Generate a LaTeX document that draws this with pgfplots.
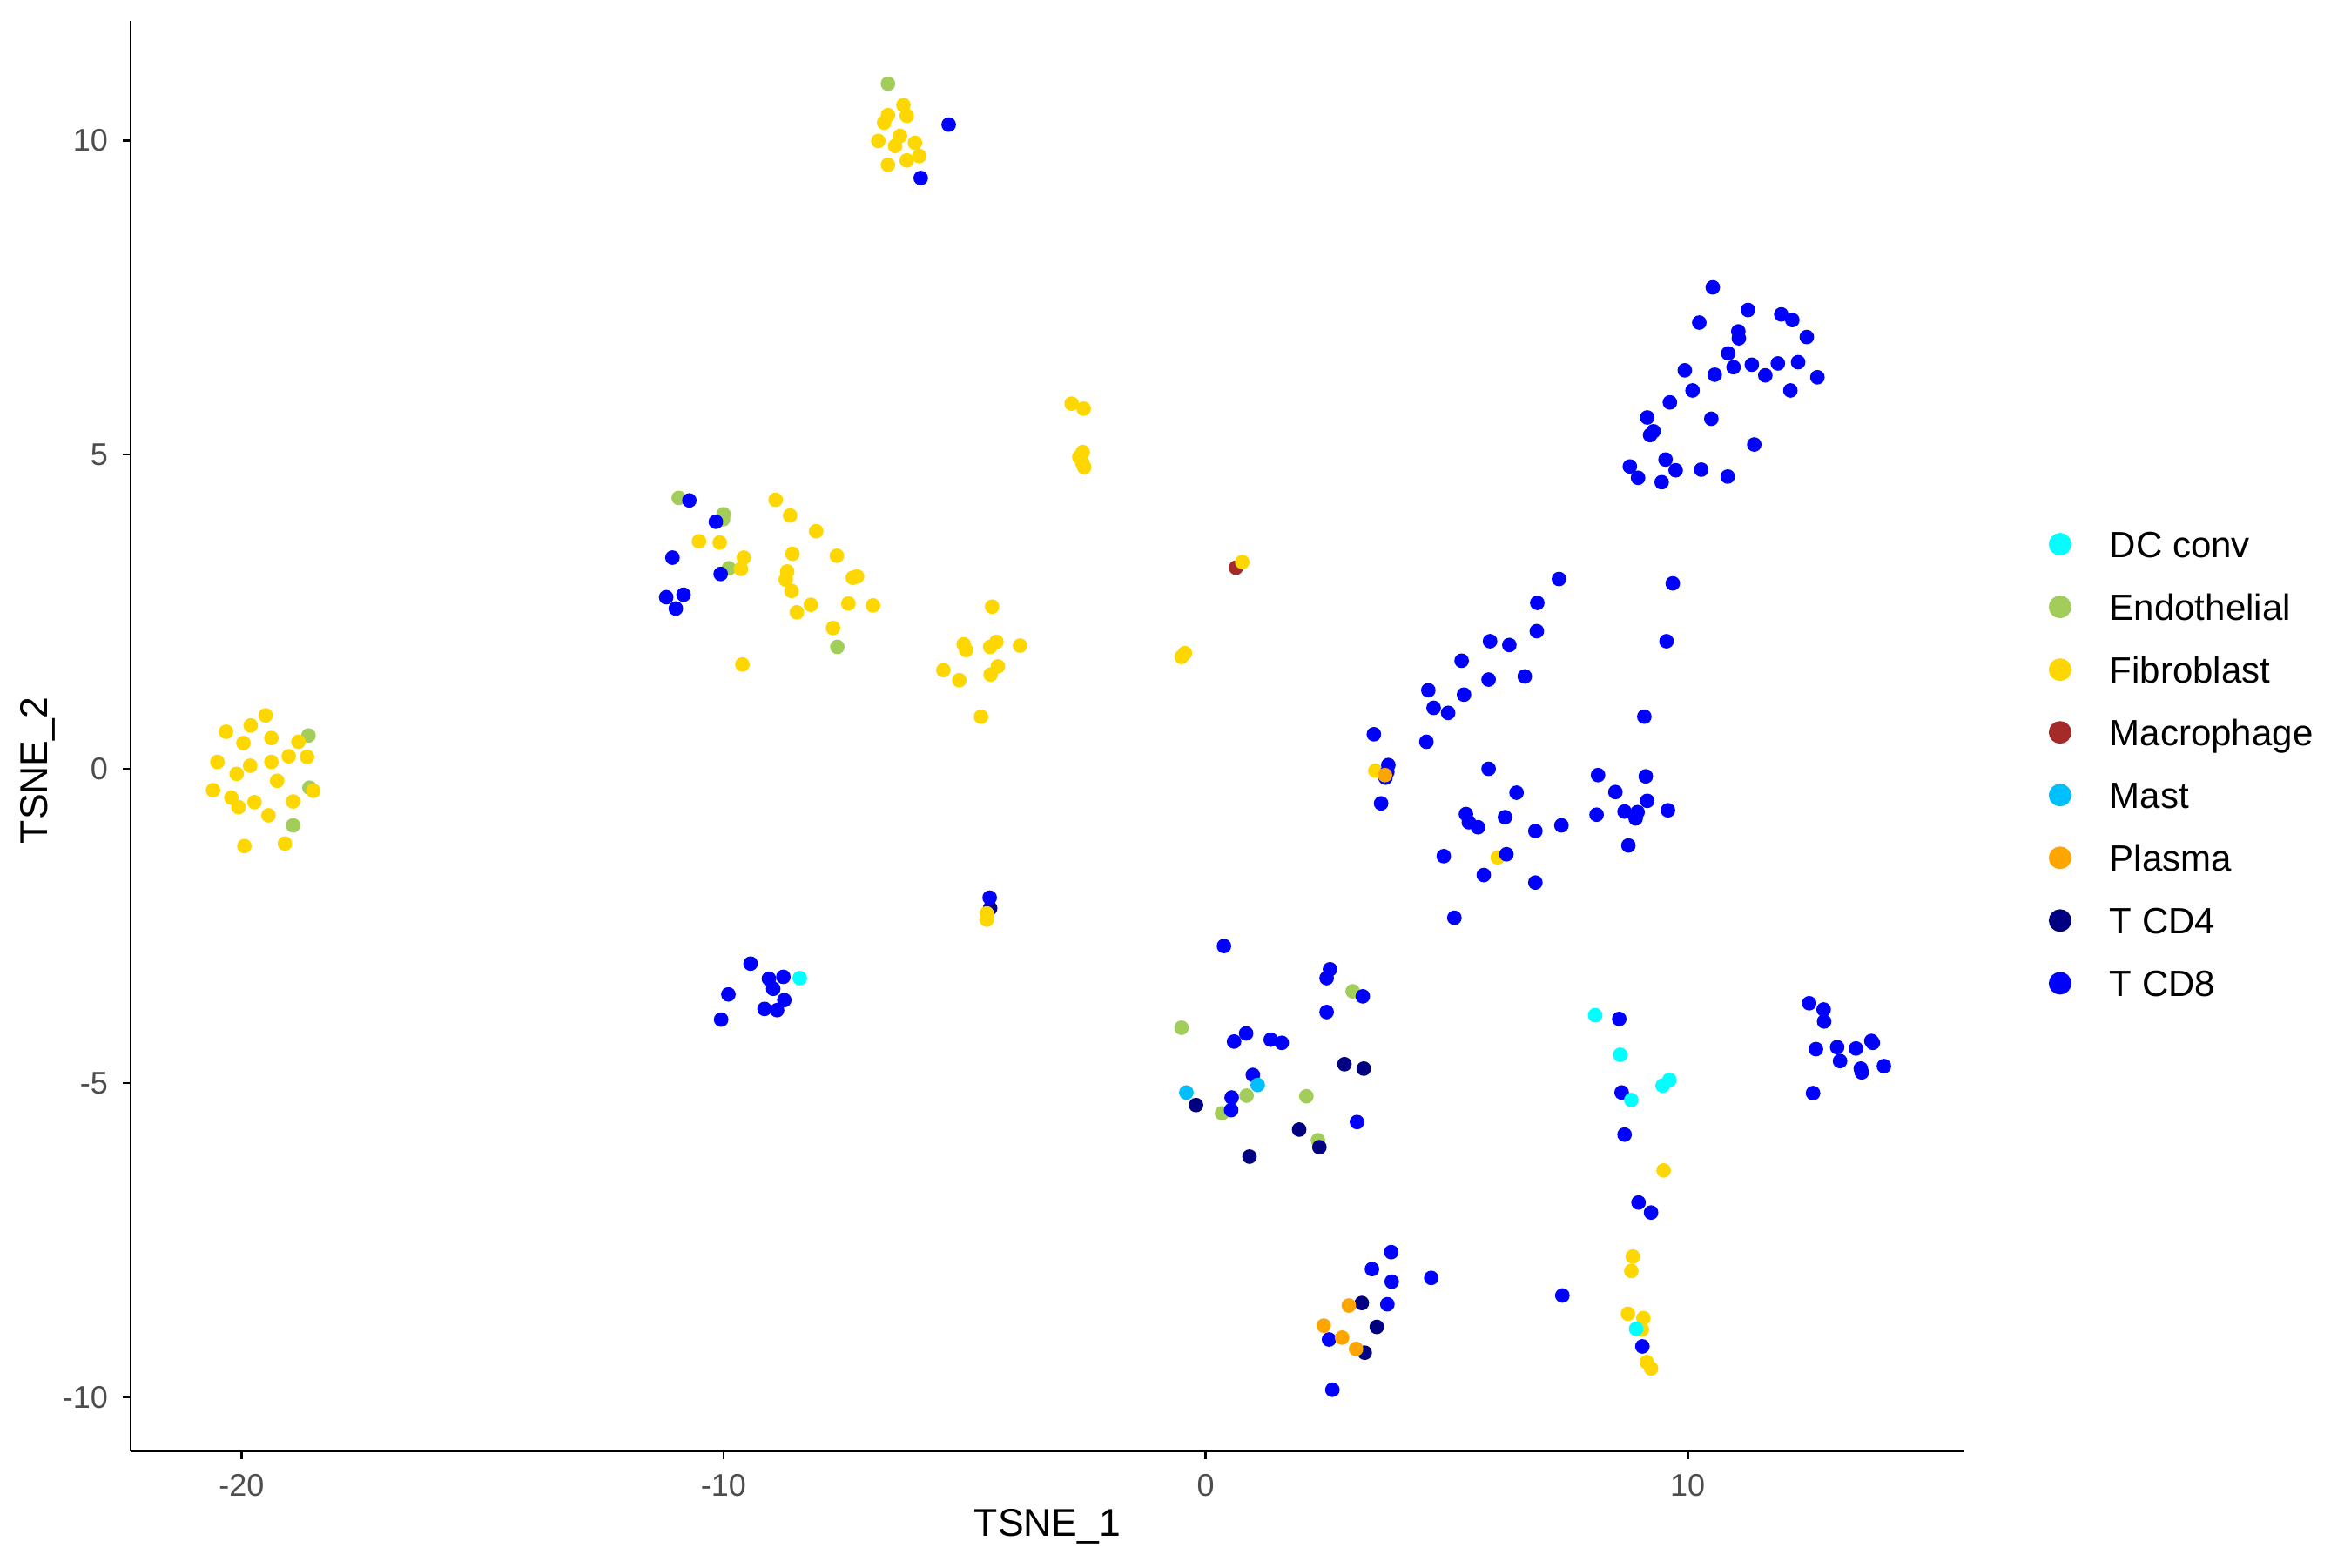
\documentclass[border=0pt]{standalone}
\usepackage{fontspec}
\setmainfont{Liberation Sans}
\usepackage{pgfplots}
\pgfplotsset{compat=1.18}

\definecolor{cDC}{HTML}{00FFFF}
\definecolor{cEndo}{HTML}{A2CD5A}
\definecolor{cFibro}{HTML}{FFD700}
\definecolor{cMacro}{HTML}{A52A2A}
\definecolor{cMast}{HTML}{00BFFF}
\definecolor{cPlasma}{HTML}{FFA500}
\definecolor{cCDfour}{HTML}{000080}
\definecolor{cCDeight}{HTML}{0000FF}
\definecolor{tickgrey}{HTML}{4D4D4D}

\pgfplotsset{
  cell/.style={only marks, mark=*, mark size=1.47pt, color=#1,
    mark options={draw=none, fill=#1}, forget plot},
}

\begin{document}
\begin{tikzpicture}
\path[use as bounding box] (-30pt,-26.6pt) rectangle (510pt,333.4pt);
\begin{axis}[
  at={(0,0)}, anchor=south west,
  scale only axis, width=421.2pt, height=328.6pt,
  xmin=-22.3, xmax=15.74, ymin=-10.86, ymax=11.9,
  axis lines*=left,
  axis line style={line width=0.55pt, black},
  xtick={-20,-10,0,10}, xticklabels={-20,-10,0,10},
  ytick={-10,-5,0,5,10}, yticklabels={-10,-5,0,5,10},
  tick align=outside, major tick length=1.7pt,
  tick style={line width=0.55pt, black},
  ticklabel style={font=\fontsize{7.2}{8}\selectfont, text=tickgrey},
  xlabel={TSNE\_1}, ylabel={TSNE\_2},
  label style={font=\fontsize{8.9}{10}\selectfont},
  xlabel style={at={(axis description cs:0.5,-0.0523)}, anchor=center},
  ylabel style={at={(axis description cs:-0.0508,0.476)}, anchor=center},
  legend style={at={(axis description cs:1.046,0.4807)}, anchor=west,
    draw=none, fill=none, inner sep=0pt, outer sep=0pt,
    row sep=8.41pt, column sep=8.8pt,
    font=\fontsize{8.4}{10}\selectfont,
    nodes={inner sep=0pt, text height=6.0pt, text depth=0pt}},
  legend cell align=left,
  legend image code/.code={\fill[#1] (2.6pt,0pt) circle (2.6pt);},
]

% Endothelial
\addplot[cell=cEndo] table {
-18.61 0.53
-18.59 -0.30
-18.93 -0.90
-10.93 4.31
-10.00 4.05
-10.01 3.97
-9.89 3.19
-7.64 1.94
-6.59 10.90
3.05 -3.54
-0.50 -4.12
0.85 -5.20
2.09 -5.21
0.34 -5.48
2.33 -5.91
};

% Macrophage
\addplot[cell=cMacro] table {
0.63 3.20
};

% T CD4 hidden under the small fibroblast group
\addplot[cell=cCDfour] table {
-4.47 -2.22
};

% Fibroblast
\addplot[cell=cFibro] table {
-19.50 0.85
-19.81 0.69
-20.32 0.59
-19.38 0.49
-19.96 0.41
-18.82 0.43
-19.02 0.20
-18.64 0.19
-20.50 0.11
-19.38 0.11
-19.82 0.05
-20.10 -0.08
-19.26 -0.19
-20.59 -0.34
-18.51 -0.35
-20.21 -0.46
-19.73 -0.53
-18.93 -0.52
-20.06 -0.61
-19.44 -0.74
-19.94 -1.23
-19.10 -1.19
-10.51 3.62
-10.08 3.60
-9.58 3.36
-9.64 3.18
-8.92 4.28
-8.62 4.03
-8.08 3.78
-8.57 3.42
-7.65 3.39
-8.68 3.14
-8.71 3.01
-7.32 3.04
-7.23 3.06
-8.59 2.83
-8.19 2.61
-7.41 2.63
-6.90 2.60
-8.48 2.49
-7.73 2.24
-9.61 1.66
-6.27 10.56
-6.59 10.40
-6.20 10.39
-6.67 10.28
-6.34 10.07
-6.79 9.99
-6.03 9.96
-6.44 9.91
-5.94 9.75
-6.20 9.68
-6.59 9.61
-4.43 2.58
-5.02 1.98
-4.97 1.89
-4.34 2.02
-4.47 1.94
-3.85 1.96
-4.31 1.63
-4.46 1.50
-5.44 1.57
-5.11 1.41
-4.66 0.83
-2.78 5.81
-2.53 5.73
-2.55 5.04
-2.62 4.96
-2.56 4.87
-2.52 4.80
0.76 3.29
-0.50 1.78
-0.43 1.84
-4.54 -2.30
-4.54 -2.40
3.52 -0.03
6.06 -1.41
9.50 -6.39
8.86 -7.76
8.83 -7.99
8.76 -8.67
9.08 -8.74
9.05 -8.92
9.15 -9.44
9.24 -9.54
};

% T CD8
\addplot[cell=cCDeight] table {
-10.71 4.27
-10.16 3.93
-11.06 3.36
-10.06 3.10
-11.19 2.73
-10.83 2.77
-10.99 2.55
-5.33 10.25
-5.91 9.40
-4.48 -2.05
-9.44 -3.10
-9.06 -3.34
-8.76 -3.31
-8.97 -3.50
-9.90 -3.59
-8.74 -3.68
-9.15 -3.82
-8.89 -3.84
-10.05 -3.99
10.52 7.66
11.25 7.30
11.94 7.23
12.17 7.14
10.24 7.10
11.05 6.96
11.06 6.85
12.47 6.87
10.84 6.61
9.94 6.34
10.56 6.27
10.95 6.39
11.33 6.43
11.87 6.45
12.29 6.47
11.61 6.26
12.69 6.23
10.10 6.02
12.13 6.02
9.63 5.83
10.49 5.57
9.16 5.59
9.29 5.37
9.22 5.31
11.38 5.16
9.54 4.92
8.80 4.81
8.97 4.63
9.75 4.75
10.28 4.76
9.46 4.56
10.83 4.65
7.33 3.02
9.69 2.95
6.88 2.64
6.87 2.19
9.56 2.03
5.90 2.03
6.30 1.97
5.31 1.72
5.87 1.42
6.62 1.47
4.62 1.25
5.36 1.18
4.73 0.97
5.03 0.89
9.10 0.83
3.49 0.55
4.58 0.43
3.79 0.06
3.73 -0.14
3.77 -0.05
3.64 -0.55
5.87 0.00
8.14 -0.10
9.13 -0.12
6.45 -0.38
8.50 -0.37
9.16 -0.51
5.40 -0.72
6.21 -0.77
8.11 -0.73
8.69 -0.68
8.96 -0.69
8.92 -0.79
9.59 -0.66
5.46 -0.85
5.65 -0.93
6.84 -0.99
7.38 -0.90
8.77 -1.22
4.94 -1.39
6.24 -1.36
5.77 -1.69
6.84 -1.81
5.16 -2.37
0.38 -2.82
2.58 -3.19
2.51 -3.33
3.26 -3.62
2.51 -3.87
0.84 -4.21
0.59 -4.34
1.35 -4.31
1.58 -4.36
0.98 -4.87
0.54 -5.23
0.53 -5.43
3.14 -5.62
3.85 -7.69
3.45 -7.96
3.86 -8.16
4.68 -8.10
3.77 -8.52
2.56 -9.08
2.63 -9.88
8.58 -3.98
8.63 -5.15
8.69 -5.82
8.98 -6.90
9.24 -7.06
7.40 -8.38
9.06 -9.19
12.52 -3.73
12.82 -3.83
12.83 -4.02
12.66 -4.46
13.10 -4.43
13.49 -4.45
13.81 -4.33
13.84 -4.36
13.16 -4.65
13.59 -4.77
13.61 -4.83
14.07 -4.73
12.60 -5.16
};

% T CD4
\addplot[cell=cCDfour] table {
2.88 -4.70
3.28 -4.77
-0.20 -5.35
1.94 -5.74
2.36 -6.02
0.91 -6.17
3.24 -8.50
3.55 -8.88
3.30 -9.29
};

% DC conv
\addplot[cell=cDC] table {
-8.42 -3.33
8.08 -3.92
8.60 -4.55
9.62 -4.95
9.48 -5.04
8.83 -5.27
8.93 -8.91
};

% Mast
\addplot[cell=cMast] table {
1.08 -5.03
-0.40 -5.15
};

% Plasma
\addplot[cell=cPlasma] table {
3.72 -0.10
2.97 -8.54
2.45 -8.86
2.83 -9.05
3.12 -9.23
};

\addlegendimage{fill=cDC, draw=none}
\addlegendentry{DC conv}
\addlegendimage{fill=cEndo, draw=none}
\addlegendentry{Endothelial}
\addlegendimage{fill=cFibro, draw=none}
\addlegendentry{Fibroblast}
\addlegendimage{fill=cMacro, draw=none}
\addlegendentry{Macrophage}
\addlegendimage{fill=cMast, draw=none}
\addlegendentry{Mast}
\addlegendimage{fill=cPlasma, draw=none}
\addlegendentry{Plasma}
\addlegendimage{fill=cCDfour, draw=none}
\addlegendentry{T CD4}
\addlegendimage{fill=cCDeight, draw=none}
\addlegendentry{T CD8}
\end{axis}
\end{tikzpicture}
\end{document}
